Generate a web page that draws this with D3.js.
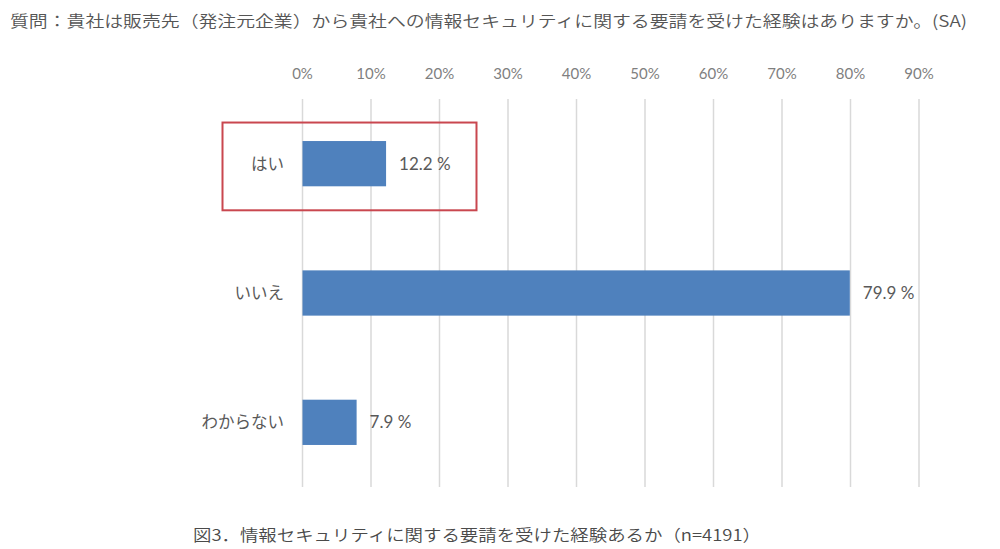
<!DOCTYPE html>
<html><head><meta charset="utf-8">
<script src="https://cdn.jsdelivr.net/npm/d3@7"></script>
<style>
html,body{margin:0;padding:0;background:#fff;}
svg{display:block;}
</style></head>
<body>
<svg id="chart" width="1000" height="549"></svg>
<script>
const categories = ["はい", "いいえ", "わからない"];
const values = [12.2, 79.9, 7.9];
const valueLabels = ["12.2 %", "79.9 %", "7.9 %"];
const ticks = [0, 10, 20, 30, 40, 50, 60, 70, 80, 90];
const tickLabels = ["0%", "10%", "20%", "30%", "40%", "50%", "60%", "70%", "80%", "90%"];
const title = "質問：貴社は販売先（発注元企業）から貴社への情報セキュリティに関する要請を受けた経験はありますか。(SA)";
const caption = "図3．情報セキュリティに関する要請を受けた経験あるか（n=4191）";
const highlighted = "はい";

const svg = d3.select("#chart");
const jp = "'Noto Sans CJK JP','Noto Sans',sans-serif";
const lat = "Lato,'Noto Sans CJK JP',sans-serif";

const x = d3.scaleLinear().domain([0, 90]).range([302.5, 919]);
const y = d3.scaleBand().domain(categories).range([99, 487]).paddingInner(0.65).paddingOuter(0.325);

// title
svg.append("text").attr("x", 10).attr("y", 27)
  .attr("textLength", 957).attr("lengthAdjust", "spacingAndGlyphs")
  .style("font-family", jp).style("font-size", "16px").style("font-weight", 350).style("fill", "#555")
  .text(title);

// gridlines
svg.append("g").selectAll("line").data(ticks).join("line")
  .attr("x1", d => x(d)).attr("x2", d => x(d))
  .attr("y1", 99).attr("y2", 487)
  .attr("stroke", "#d9d9d9").attr("stroke-width", 1.5);

// top axis labels
svg.append("g").selectAll("text").data(ticks).join("text")
  .attr("x", d => x(d)).attr("y", 79)
  .attr("text-anchor", "middle")
  .style("font-family", lat).style("font-size", "15px").style("fill", "#7f7f7f")
  .text((d, i) => tickLabels[i]);

// bars
svg.append("g").selectAll("rect").data(values).join("rect")
  .attr("x", x(0))
  .attr("y", (d, i) => y(categories[i]))
  .attr("width", d => x(d) - x(0))
  .attr("height", y.bandwidth())
  .attr("fill", "#4f81bd");

// category labels
svg.append("g").selectAll("text").data(categories).join("text")
  .attr("x", 284).attr("y", d => y(d) + y.bandwidth() / 2 + 6)
  .attr("text-anchor", "end")
  .style("font-family", jp).style("font-size", "16.5px").style("fill", "#595959")
  .text(d => d);

// value labels
svg.append("g").selectAll("text").data(values).join("text")
  .attr("x", d => x(d) + 13)
  .attr("y", (d, i) => y(categories[i]) + y.bandwidth() / 2 + 6)
  .style("font-family", lat).style("font-size", "17px").style("fill", "#595959")
  .text((d, i) => valueLabels[i]);

// highlight box
const hb = y(highlighted);
svg.append("rect")
  .attr("x", x(0) - 80).attr("y", hb - 18.5)
  .attr("width", x(25.4) - x(0) + 80).attr("height", y.bandwidth() + 42.5)
  .attr("fill", "none").attr("stroke", "#c9474f").attr("stroke-width", 2);

// caption
svg.append("text").attr("x", 193).attr("y", 541)
  .attr("textLength", 568).attr("lengthAdjust", "spacingAndGlyphs")
  .style("font-family", jp).style("font-size", "16px").style("font-weight", 350).style("fill", "#4a4a4a")
  .text(caption);
</script>
</body></html>
